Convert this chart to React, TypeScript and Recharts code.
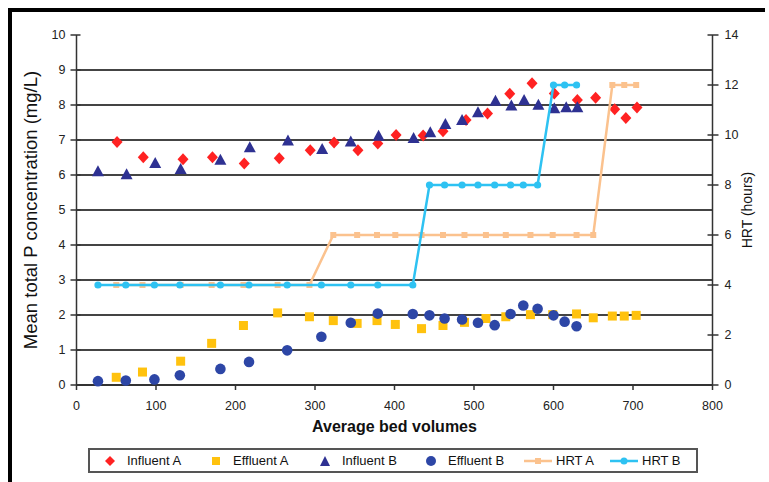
import React from 'react';
import { ComposedChart, Scatter, XAxis, YAxis, CartesianGrid, Legend } from 'recharts';

// ---- Data ----
const bedVolumesInfluentA = [51, 84, 134, 171, 211, 255, 294, 324, 354, 379, 402, 436, 461, 490, 517, 545, 573, 601, 630, 653, 677, 691, 705];
const influentA = [6.94, 6.51, 6.45, 6.51, 6.33, 6.48, 6.71, 6.93, 6.71, 6.9, 7.14, 7.13, 7.25, 7.57, 7.76, 8.32, 8.62, 8.33, 8.14, 8.21, 7.88, 7.63, 7.93];

const bedVolumesEffluentA = [50, 83, 131, 170, 210, 253, 293, 323, 353, 378, 401, 434, 461, 488, 515, 540, 571, 599, 629, 650, 674, 689, 704];
const effluentA = [0.22, 0.37, 0.68, 1.19, 1.7, 2.06, 1.95, 1.84, 1.76, 1.84, 1.73, 1.61, 1.7, 1.79, 1.9, 1.95, 2.01, 2.01, 2.03, 1.92, 1.97, 1.97, 1.99];

const bedVolumesInfluentB = [27, 63, 99, 131, 181, 218, 266, 309, 345, 380, 424, 445, 464, 485, 505, 527, 547, 563, 581, 601, 616, 630];
const influentB = [6.09, 6.01, 6.33, 6.16, 6.42, 6.78, 6.97, 6.73, 6.94, 7.11, 7.04, 7.21, 7.44, 7.56, 7.78, 8.11, 7.97, 8.13, 7.99, 7.89, 7.92, 7.92];

const bedVolumesEffluentB = [27, 62, 98, 130, 181, 217, 265, 308, 345, 379, 423, 444, 463, 485, 505, 526, 546, 562, 580, 600, 614, 629];
const effluentB = [0.11, 0.13, 0.16, 0.28, 0.46, 0.66, 0.99, 1.38, 1.78, 2.04, 2.03, 1.99, 1.9, 1.87, 1.78, 1.71, 2.03, 2.27, 2.18, 1.99, 1.81, 1.68];

const hrtA = [4, 4, 4, 4, 4, 4, 4, 6, 6, 6, 6, 6, 6, 6, 6, 6, 6, 6, 6, 6, 12, 12, 12];
const hrtB = [4, 4, 4, 4, 4, 4, 4, 4, 4, 4, 4, 8, 8, 8, 8, 8, 8, 8, 8, 12, 12, 12];

const xTicks = [0, 100, 200, 300, 400, 500, 600, 700, 800];
const leftTicks = [0, 1, 2, 3, 4, 5, 6, 7, 8, 9, 10];
const rightTicks = [0, 2, 4, 6, 8, 10, 12, 14];
const gridValues = [1, 2, 3, 4, 5, 6, 7, 8, 9];

const seriesNames = ['Influent A', 'Effluent A', 'Influent B', 'Effluent B', 'HRT A', 'HRT B'];

const zip = (xs: number[], ys: number[]) => xs.map((x, i) => ({ x, y: ys[i] }));

const influentAData = zip(bedVolumesInfluentA, influentA);
const effluentAData = zip(bedVolumesEffluentA, effluentA);
const influentBData = zip(bedVolumesInfluentB, influentB);
const effluentBData = zip(bedVolumesEffluentB, effluentB);
const hrtAData = zip(bedVolumesEffluentA, hrtA);
const hrtBData = zip(bedVolumesEffluentB, hrtB);

// ---- Styles ----
const FONT = '"Liberation Sans", Arial, sans-serif';
const C_RED = '#FF2222';
const C_YELLOW = '#FFC20E';
const C_NAVY = '#2E3192';
const C_BLUE = '#2D46A6';
const C_PEACH = '#FBC28E';
const C_SKY = '#2EC2F2';
const C_GRID = '#444444';
const C_AXIS = '#333333';
const Y_TICK_SIZE = 6;
const Y_TICK_MARGIN = 5;

const Diamond = (p: any) => (
  <polygon
    points={`${p.cx},${p.cy - 6} ${p.cx + 5.5},${p.cy} ${p.cx},${p.cy + 6} ${p.cx - 5.5},${p.cy}`}
    fill={C_RED}
  />
);
const Square = (p: any) => <rect x={p.cx - 4.5} y={p.cy - 4.5} width={9} height={9} fill={C_YELLOW} />;
const Triangle = (p: any) => (
  <polygon
    points={`${p.cx},${p.cy - 6.5} ${p.cx + 6},${p.cy + 4.5} ${p.cx - 6},${p.cy + 4.5}`}
    fill={C_NAVY}
  />
);
const Circle = (p: any) => <circle cx={p.cx} cy={p.cy} r={5.3} fill={C_BLUE} />;
const SmallSquare = (p: any) => <rect x={p.cx - 3} y={p.cy - 3} width={6} height={6} fill={C_PEACH} />;
const SmallCircle = (p: any) => <circle cx={p.cx} cy={p.cy} r={3.6} fill={C_SKY} />;

const LeftTick = (p: any) => {
  const ax = p.x + Y_TICK_SIZE + Y_TICK_MARGIN;
  return (
    <g>
      <line x1={ax - 6} x2={ax + 4} y1={p.y} y2={p.y} stroke={C_AXIS} strokeWidth={1.5} />
      <text x={p.x} y={p.y} dy="0.355em" textAnchor="end" fontFamily={FONT} fontSize={12.5} fill="#222">
        {p.payload.value}
      </text>
    </g>
  );
};

const RightTick = (p: any) => {
  const ax = p.x - Y_TICK_SIZE - Y_TICK_MARGIN - 1;
  return (
    <g>
      <line x1={ax - 5} x2={ax + 6} y1={p.y} y2={p.y} stroke={C_AXIS} strokeWidth={1.5} />
      <text x={p.x} y={p.y} dy="0.355em" textAnchor="start" fontFamily={FONT} fontSize={12.5} fill="#222">
        {p.payload.value}
      </text>
    </g>
  );
};

const XTitle = ({ viewBox }: any) => (
  <text
    x={viewBox.x + viewBox.width / 2}
    y={viewBox.y + 47}
    textAnchor="middle"
    fontFamily={FONT}
    fontSize={16}
    fontWeight="bold"
    fill="#111"
  >
    Average bed volumes
  </text>
);

const LeftTitle = ({ viewBox }: any) => {
  const cx = viewBox.x + 18;
  const cy = viewBox.y + viewBox.height / 2;
  return (
    <text
      x={cx}
      y={cy}
      transform={`rotate(-90 ${cx} ${cy})`}
      textAnchor="middle"
      dominantBaseline="central"
      fontFamily={FONT}
      fontSize={18.5}
      fill="#111"
    >
      Mean total P concentration (mg/L)
    </text>
  );
};

const RightTitle = ({ viewBox }: any) => {
  const cx = viewBox.x + 34;
  const cy = viewBox.y + viewBox.height / 2;
  return (
    <text
      x={cx}
      y={cy}
      transform={`rotate(-90 ${cx} ${cy})`}
      textAnchor="middle"
      dominantBaseline="central"
      fontFamily={FONT}
      fontSize={14}
      fill="#111"
    >
      HRT (hours)
    </text>
  );
};

const legendIcon = (i: number) => {
  switch (i) {
    case 0:
      return (
        <svg width={20} height={14}>
          <polygon points="10,2 15,7 10,12 5,7" fill={C_RED} />
        </svg>
      );
    case 1:
      return (
        <svg width={20} height={14}>
          <rect x={6} y={3} width={8} height={8} fill={C_YELLOW} />
        </svg>
      );
    case 2:
      return (
        <svg width={20} height={14}>
          <polygon points="10,2 15,12 5,12" fill={C_NAVY} />
        </svg>
      );
    case 3:
      return (
        <svg width={20} height={14}>
          <circle cx={10} cy={7} r={5} fill={C_BLUE} />
        </svg>
      );
    case 4:
      return (
        <svg width={30} height={14}>
          <line x1={1} y1={7} x2={29} y2={7} stroke={C_PEACH} strokeWidth={2.5} />
          <rect x={12} y={4} width={6} height={6} fill={C_PEACH} />
        </svg>
      );
    default:
      return (
        <svg width={30} height={14}>
          <line x1={1} y1={7} x2={29} y2={7} stroke={C_SKY} strokeWidth={2.5} />
          <circle cx={15} cy={7} r={3.5} fill={C_SKY} />
        </svg>
      );
  }
};

const legendItemWidths = [106, 109, 106, 102, 86, 80];

const LegendBox = () => (
  <div
    style={{
      border: '2px solid #555',
      boxSizing: 'border-box',
      height: 25,
      display: 'flex',
      alignItems: 'center',
      paddingLeft: 10,
      fontFamily: FONT,
      fontSize: 13,
      color: '#111',
      background: '#fff',
    }}
  >
    {seriesNames.map((name, i) => (
      <div key={name} style={{ display: 'flex', alignItems: 'center', width: legendItemWidths[i] }}>
        {legendIcon(i)}
        <span style={{ marginLeft: i >= 4 ? 3 : 7, whiteSpace: 'nowrap' }}>{name}</span>
      </div>
    ))}
  </div>
);

const tickStyle = { fontFamily: FONT, fontSize: 12.5, fill: '#222' };

export default function App() {
  return (
    <div
      style={{
        position: 'absolute',
        left: 8,
        top: 8,
        width: 753,
        height: 470,
        borderLeft: '4px solid #000',
        borderTop: '4px solid #000',
        background: '#fff',
      }}
    >
      <ComposedChart width={753} height={470} margin={{ top: 23, right: 0, bottom: 37, left: 0 }}>
        <CartesianGrid
          yAxisId="left"
          vertical={false}
          horizontalValues={gridValues}
          stroke={C_GRID}
          strokeWidth={2}
        />
        <XAxis
          type="number"
          dataKey="x"
          domain={[0, 800]}
          ticks={xTicks}
          interval={0}
          height={60}
          tickSize={5}
          tickMargin={11}
          tick={tickStyle}
          axisLine={{ stroke: C_AXIS, strokeWidth: 2 }}
          tickLine={{ stroke: C_AXIS, strokeWidth: 1.5 }}
          label={<XTitle />}
        />
        <YAxis
          yAxisId="left"
          dataKey="y"
          type="number"
          domain={[0, 10]}
          ticks={leftTicks}
          interval={0}
          width={64.5}
          tickSize={Y_TICK_SIZE}
          tickMargin={Y_TICK_MARGIN}
          tick={<LeftTick />}
          axisLine={{ stroke: C_AXIS, strokeWidth: 1.5 }}
          tickLine={false}
          label={<LeftTitle />}
        />
        <YAxis
          yAxisId="right"
          orientation="right"
          dataKey="y"
          type="number"
          domain={[0, 14]}
          ticks={rightTicks}
          interval={0}
          width={52.5}
          tickSize={Y_TICK_SIZE}
          tickMargin={Y_TICK_MARGIN + 1}
          tick={<RightTick />}
          axisLine={{ stroke: C_AXIS, strokeWidth: 1.5 }}
          tickLine={false}
          label={<RightTitle />}
        />
        <Scatter name={seriesNames[0]} data={influentAData} yAxisId="left" fill={C_RED} shape={Diamond} isAnimationActive={false} />
        <Scatter name={seriesNames[1]} data={effluentAData} yAxisId="left" fill={C_YELLOW} shape={Square} isAnimationActive={false} />
        <Scatter name={seriesNames[2]} data={influentBData} yAxisId="left" fill={C_NAVY} shape={Triangle} isAnimationActive={false} />
        <Scatter name={seriesNames[3]} data={effluentBData} yAxisId="left" fill={C_BLUE} shape={Circle} isAnimationActive={false} />
        <Scatter
          name={seriesNames[4]}
          data={hrtAData}
          yAxisId="right"
          fill={C_PEACH}
          line={{ stroke: C_PEACH, strokeWidth: 2.5 }}
          shape={SmallSquare}
          isAnimationActive={false}
        />
        <Scatter
          name={seriesNames[5]}
          data={hrtBData}
          yAxisId="right"
          fill={C_SKY}
          line={{ stroke: C_SKY, strokeWidth: 2.5 }}
          shape={SmallCircle}
          isAnimationActive={false}
        />
        <Legend
          verticalAlign="middle"
          align="center"
          layout="horizontal"
          content={<LegendBox />}
          wrapperStyle={{ left: 76, top: 436, width: 610, height: 25 }}
        />
      </ComposedChart>
    </div>
  );
}
